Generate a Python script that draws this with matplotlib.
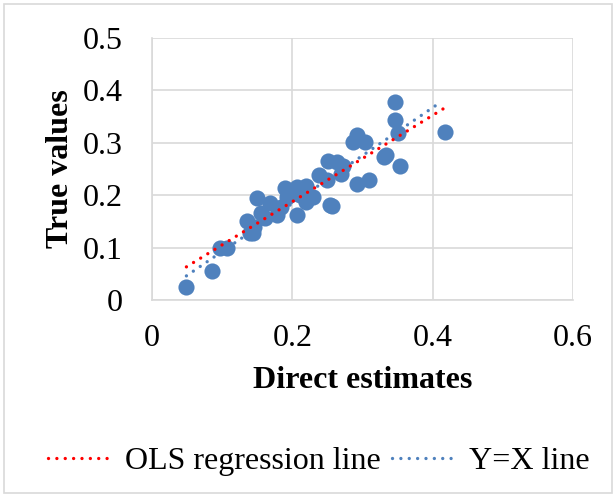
import numpy as np
import matplotlib.pyplot as plt
from matplotlib.patches import Rectangle

plt.rcParams['font.family'] = ['Liberation Serif', 'DejaVu Serif']

# direct estimates (x) and true values (y)
direct = [0.049, 0.086, 0.097, 0.107, 0.135, 0.139, 0.144, 0.146, 0.150, 0.156,
          0.161, 0.168, 0.178, 0.184, 0.190, 0.192, 0.199, 0.206, 0.207, 0.211,
          0.219, 0.220, 0.229, 0.238, 0.249, 0.253, 0.251, 0.256, 0.263, 0.270,
          0.272, 0.287, 0.292, 0.292, 0.304, 0.309, 0.330, 0.334, 0.346, 0.347,
          0.350, 0.353, 0.417]
true_vals = [0.025, 0.056, 0.100, 0.100, 0.150, 0.127, 0.127, 0.140, 0.194, 0.166,
             0.157, 0.185, 0.162, 0.178, 0.213, 0.197, 0.203, 0.216, 0.162, 0.200,
             0.217, 0.187, 0.197, 0.238, 0.229, 0.181, 0.265, 0.179, 0.263, 0.241,
             0.256, 0.302, 0.314, 0.222, 0.301, 0.229, 0.273, 0.276, 0.378, 0.343,
             0.319, 0.256, 0.321]

# the "Y=X" series as it is drawn in the chart (end points)
yx_line_x = [0.049, 0.413]
yx_line_y = [0.046, 0.379]

x_ticks = [0, 0.2, 0.4, 0.6]
x_tick_labels = ['0', '0.2', '0.4', '0.6']
y_ticks = [0, 0.1, 0.2, 0.3, 0.4, 0.5]
y_tick_labels = ['0', '0.1', '0.2', '0.3', '0.4', '0.5']

x = np.array(direct)
y = np.array(true_vals)
slope, intercept = np.polyfit(x, y, 1)
line_x = np.array([x.min(), x.max()])

dots = (0, (0.01, 2.5))

fig = plt.figure(figsize=(6.16, 4.97), dpi=100)
fig.patches.append(Rectangle((0.006, 0.008), 0.988, 0.984, transform=fig.transFigure,
                             fill=False, edgecolor='#D9D9D9', linewidth=1.2))
ax = fig.add_axes([0.2468, 0.3964, 0.6834, 0.5272])

ax.scatter(x, y, s=135, color='#4F81BD', zorder=3, linewidths=0)
ax.plot(line_x, intercept + slope * line_x, color='red', lw=2.4,
        linestyle=dots, dash_capstyle='round', zorder=4,
        label='OLS regression line')
ax.plot(yx_line_x, yx_line_y, color='#4F81BD', lw=2.4,
        linestyle=dots, dash_capstyle='round', zorder=4,
        label='Y=X line')

ax.set_xlim(0, 0.6)
ax.set_ylim(0, 0.5)
ax.set_xticks(x_ticks)
ax.set_xticklabels(x_tick_labels)
ax.set_yticks(y_ticks)
ax.set_yticklabels(y_tick_labels)
ax.tick_params(axis='both', length=0, labelsize=23)
ax.tick_params(axis='y', pad=21)
ax.tick_params(axis='x', pad=17)
ax.grid(True, color='#D9D9D9', linewidth=1.2)
ax.set_axisbelow(True)
for side in ['top', 'right']:
    ax.spines[side].set_visible(False)
for side in ['left', 'bottom']:
    ax.spines[side].set_color('#D9D9D9')
    ax.spines[side].set_linewidth(1.2)

ax.set_xlabel('Direct estimates', fontsize=23, fontweight='bold', labelpad=10)
ax.set_ylabel('True values', fontsize=23, fontweight='bold', labelpad=6)

fig.legend(loc='center', bbox_to_anchor=(0.517, 0.072), ncol=2, frameon=False,
           fontsize=23, handlelength=1.97, handletextpad=0.44, columnspacing=0.35)

fig.savefig('out.png', dpi=100)
